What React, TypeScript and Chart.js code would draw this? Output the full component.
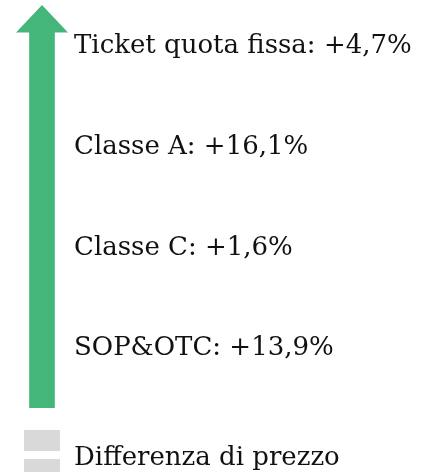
import { useEffect, useRef } from "react";
import { Chart, registerables } from "chart.js";

Chart.register(...registerables);

const categories = ["Aumento"];
const arrowValues = [100];
const changeLabels = [
  "Ticket quota fissa: +4,7%",
  "Classe A: +16,1%",
  "Classe C: +1,6%",
  "SOP&OTC: +13,9%",
];
const legendLabel = "Differenza di prezzo";

const ARROW_COLOR = "#45b67a";
const LEGEND_COLOR = "#d9d9d9";
const TEXT_COLOR = "#111111";
const FONT_FAMILY = '"DejaVu Serif", serif';
const FONT_SIZE = 26;

export default function App() {
  const ref = useRef<HTMLCanvasElement>(null);

  useEffect(() => {
    document.body.style.margin = "0";
    const canvas = ref.current;
    if (!canvas) return;

    const arrowHead = {
      id: "arrowHead",
      afterDatasetsDraw(chart: any) {
        const bar = chart.getDatasetMeta(0).data[0];
        if (!bar) return;
        const { x, y } = bar;
        const ctx = chart.ctx;
        ctx.save();
        ctx.fillStyle = ARROW_COLOR;
        ctx.beginPath();
        ctx.moveTo(x - 26, y + 0.5);
        ctx.lineTo(x + 26, y + 0.5);
        ctx.lineTo(x, y - 27);
        ctx.closePath();
        ctx.fill();
        ctx.restore();
      },
    };

    const customLegend = {
      id: "customLegend",
      afterDraw(chart: any) {
        const ctx = chart.ctx;
        ctx.save();
        ctx.fillStyle = LEGEND_COLOR;
        ctx.fillRect(24, 430, 36, 21);
        ctx.fillRect(24, 459, 36, 21);
        ctx.fillStyle = TEXT_COLOR;
        ctx.font = `${FONT_SIZE}px ${FONT_FAMILY}`;
        ctx.textBaseline = "alphabetic";
        ctx.textAlign = "left";
        ctx.fillText(legendLabel, 74, 465);
        ctx.restore();
      },
    };

    const chart = new Chart(canvas, {
      type: "bar",
      data: {
        labels: categories,
        datasets: [
          {
            data: arrowValues,
            backgroundColor: ARROW_COLOR,
            borderWidth: 0,
            barThickness: 25,
          },
        ],
      },
      options: {
        animation: false,
        responsive: false,
        layout: { padding: { left: 16, top: 5, bottom: 64, right: 0 } },
        plugins: {
          legend: { display: false },
          tooltip: { enabled: false },
        },
        scales: {
          x: { type: "category", display: false },
          y: { type: "linear", display: false, min: 0, max: 107.2 },
          labelsAxis: {
            type: "category",
            axis: "y",
            position: "right",
            labels: changeLabels,
            offset: true,
            grid: { display: false, drawTicks: false },
            border: { display: false },
            ticks: {
              autoSkip: false,
              padding: 6,
              labelOffset: -9,
              color: TEXT_COLOR,
              font: { family: FONT_FAMILY, size: FONT_SIZE },
            },
            afterFit(scale: any) {
              scale.width = 372;
              scale.paddingTop = 0;
              scale.paddingBottom = 0;
            },
          },
        },
      } as any,
      plugins: [arrowHead, customLegend],
    });

    return () => chart.destroy();
  }, []);

  return <canvas ref={ref} width={440} height={472} />;
}
